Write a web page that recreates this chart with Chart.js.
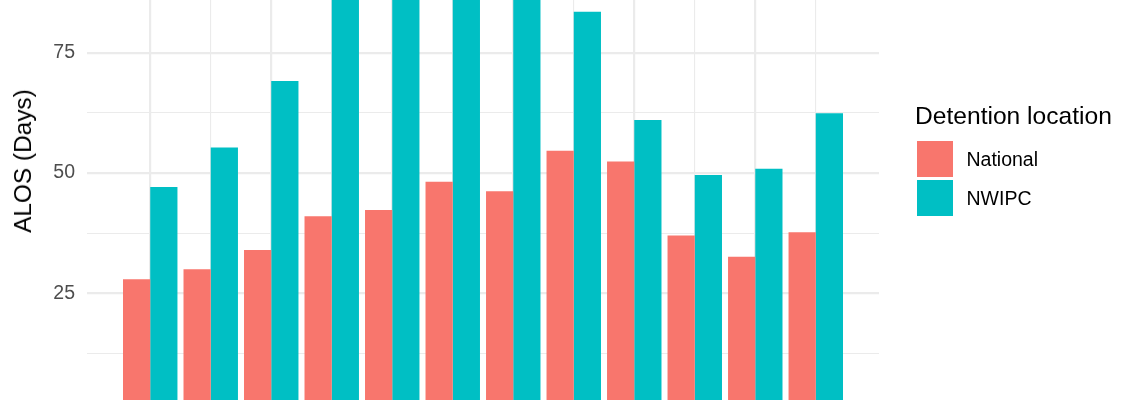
<!DOCTYPE html>
<html>
<head>
<meta charset="utf-8">
<script src="https://cdn.jsdelivr.net/npm/chart.js@4/dist/chart.umd.min.js"></script>
<style>
  html, body { margin: 0; padding: 0; background: #ffffff; }
  #wrap { position: relative; width: 1140px; height: 400px; overflow: hidden; font-family: "Liberation Sans", Arial, sans-serif; }
  #c { position: absolute; left: 0; top: 0; }
  .ytitle { position: absolute; left: 22.5px; top: 161px; font-size: 24.4px; line-height: 24px; color: #000; white-space: nowrap; transform: translate(-50%, -50%) rotate(-90deg); }
  .ltitle { position: absolute; left: 915px; top: 103.5px; font-size: 24.6px; line-height: 24px; color: #000; white-space: nowrap; }
  .key { position: absolute; left: 917px; width: 36px; height: 36px; }
  .llab { position: absolute; left: 966.5px; font-size: 19.5px; line-height: 19.5px; color: #000; white-space: nowrap; }
</style>
</head>
<body>
<div id="wrap">
  <canvas id="c" width="1140" height="400"></canvas>
  <div class="ytitle">ALOS (Days)</div>
  <div class="ltitle">Detention location</div>
  <div class="key" style="top:141px;background:#F8766D"></div>
  <div class="llab" style="top:149.5px">National</div>
  <div class="key" style="top:180px;background:#00BFC4"></div>
  <div class="llab" style="top:189px">NWIPC</div>
</div>
<script>
// Category positions (x-axis labels are outside the visible crop)
const categories = [1, 2, 3, 4, 5, 6, 7, 8, 9, 10, 11, 12];
// Average length of stay (days)
const nationalValues = [27.9, 30.0, 34.0, 41.0, 42.3, 48.2, 46.2, 54.6, 52.4, 37.0, 32.6, 37.7];
const nwipcValues    = [47.1, 55.3, 69.1, 92.0, 98.0, 104.0, 96.0, 83.5, 61.0, 49.6, 50.9, 62.4];
const yTickValues = [12.5, 25, 37.5, 50, 62.5, 75];
const yTickLabels = ['', '25', '', '50', '', '75'];
const seriesNames = ['National', 'NWIPC'];

const toPoints = vals => categories.map((c, i) => ({ x: c, y: vals[i] }));

new Chart(document.getElementById('c'), {
  type: 'bar',
  data: {
    datasets: [
      { label: seriesNames[0], data: toPoints(nationalValues), backgroundColor: '#F8766D', borderWidth: 0, categoryPercentage: 0.9, barPercentage: 1.0 },
      { label: seriesNames[1], data: toPoints(nwipcValues), backgroundColor: '#00BFC4', borderWidth: 0, categoryPercentage: 0.9, barPercentage: 1.0 }
    ]
  },
  options: {
    responsive: false,
    devicePixelRatio: 1,
    animation: false,
    layout: { padding: { left: 0, right: 261, top: 0, bottom: 0 } },
    plugins: { legend: { display: false }, tooltip: { enabled: false }, title: { display: false } },
    scales: {
      x: {
        type: 'linear',
        offset: false,
        min: categories[0] - 1.045,
        max: categories[categories.length - 1] + 1.045,
        border: { display: false },
        ticks: { display: false },
        grid: {
          offset: false,
          drawTicks: false,
          color: '#EBEBEB',
          lineWidth: ctx => (ctx.tick && Math.round(ctx.tick.value) % 2 === 1) ? 2.2 : 1.1
        },
        afterBuildTicks: s => { s.ticks = categories.map(v => ({ value: v })); },
        afterFit: s => { s.height = 0; s.paddingLeft = 0; s.paddingRight = 0; s.paddingTop = 0; s.paddingBottom = 0; }
      },
      y: {
        type: 'linear',
        min: 2.83,
        max: 85.95,
        border: { display: false },
        grid: {
          drawTicks: false,
          color: '#EBEBEB',
          lineWidth: ctx => (ctx.tick && ctx.tick.value % 25 === 0) ? 2.2 : 1.1
        },
        ticks: {
          padding: 12,
          color: '#4D4D4D',
          font: { family: '"Liberation Sans", Arial, sans-serif', size: 19.5 },
          callback: (v, i) => yTickLabels[i]
        },
        afterBuildTicks: s => { s.ticks = yTickValues.map(v => ({ value: v })); },
        afterFit: s => { s.width = 87; s.paddingTop = 0; s.paddingBottom = 0; s.paddingLeft = 0; s.paddingRight = 0; }
      }
    }
  }
});
</script>
</body>
</html>
